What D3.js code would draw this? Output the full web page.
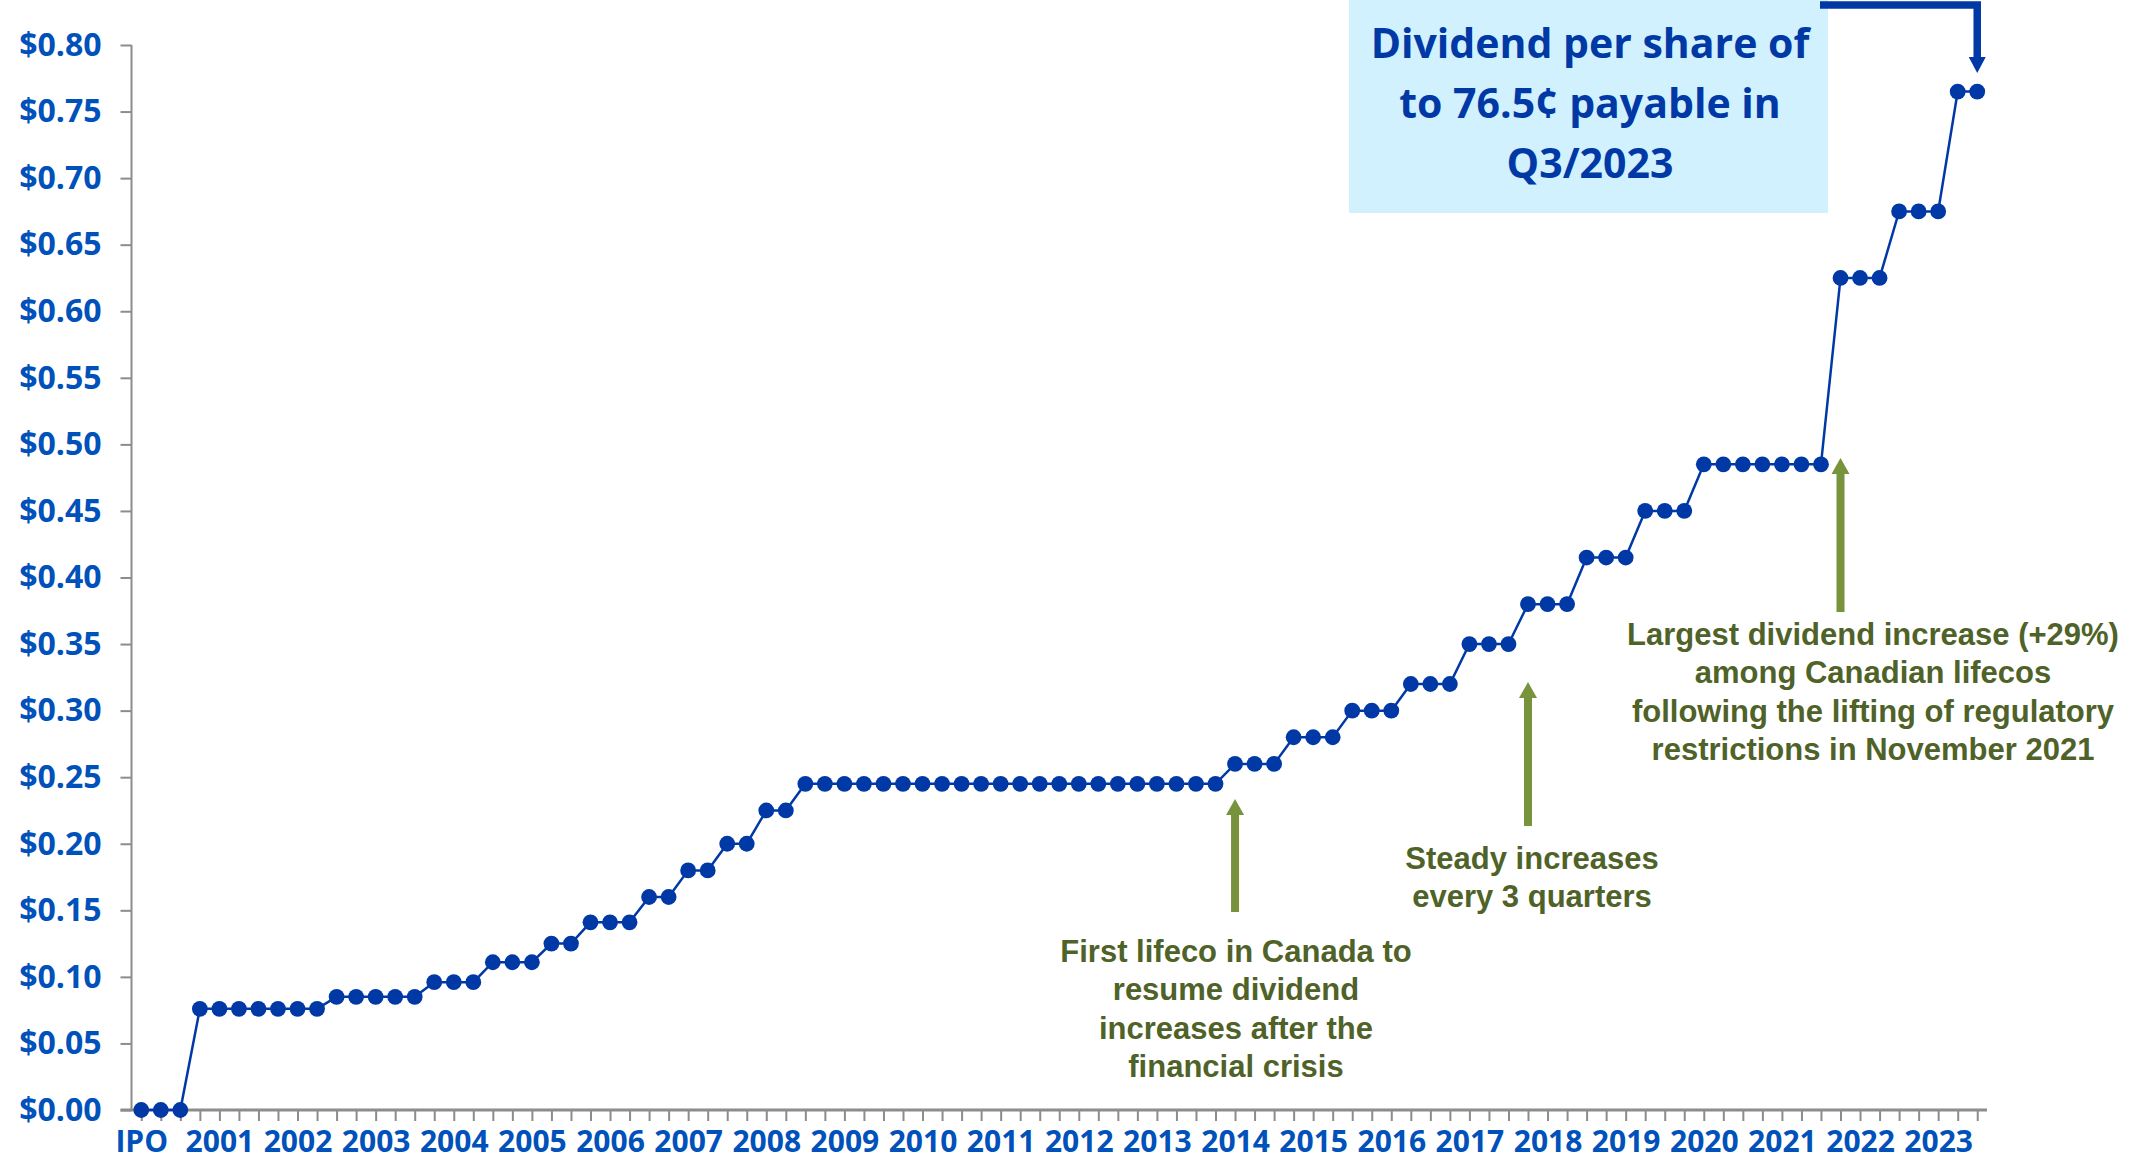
<!DOCTYPE html>
<html>
<head>
  <meta charset="utf-8">
  <title>Dividend history</title>
  <script src="https://d3js.org/d3.v7.min.js"></script>
  <style>
    body { margin: 0; background: #fff; }
    .tick-label { font-family: "Open Sans", sans-serif; font-weight: 700; fill: #0051ba; }
    .note { font-family: "Liberation Sans", Arial, sans-serif; font-weight: 700; fill: #4f6228; font-size: 31px; }
    .callout { font-family: "Open Sans", sans-serif; font-weight: 700; fill: #0039a6; font-size: 41px; }
  </style>
</head>
<body>
  <script>
    // Quarterly dividend per share, IPO through Q3/2023
    var dividends = [
      0, 0, 0,
      0.076, 0.076, 0.076, 0.076, 0.076, 0.076, 0.076,
      0.085, 0.085, 0.085, 0.085, 0.085,
      0.096, 0.096, 0.096,
      0.111, 0.111, 0.111,
      0.125, 0.125,
      0.141, 0.141, 0.141,
      0.16, 0.16,
      0.18, 0.18,
      0.20, 0.20,
      0.225, 0.225,
      0.245, 0.245, 0.245, 0.245, 0.245, 0.245, 0.245, 0.245, 0.245, 0.245, 0.245,
      0.245, 0.245, 0.245, 0.245, 0.245, 0.245, 0.245, 0.245, 0.245, 0.245, 0.245,
      0.26, 0.26, 0.26,
      0.28, 0.28, 0.28,
      0.30, 0.30, 0.30,
      0.32, 0.32, 0.32,
      0.35, 0.35, 0.35,
      0.38, 0.38, 0.38,
      0.415, 0.415, 0.415,
      0.45, 0.45, 0.45,
      0.485, 0.485, 0.485, 0.485, 0.485, 0.485, 0.485,
      0.625, 0.625, 0.625,
      0.675, 0.675, 0.675,
      0.765, 0.765
    ];

    // one label every 4 quarters
    var yearLabels = ["IPO", "2001", "2002", "2003", "2004", "2005", "2006", "2007",
      "2008", "2009", "2010", "2011", "2012", "2013", "2014", "2015", "2016",
      "2017", "2018", "2019", "2020", "2021", "2022", "2023"];

    var yTicks = [0, 0.05, 0.10, 0.15, 0.20, 0.25, 0.30, 0.35, 0.40,
      0.45, 0.50, 0.55, 0.60, 0.65, 0.70, 0.75, 0.80];

    var width = 2153, height = 1161;
    var plot = {left: 131.5, right: 1987, top: 45, bottom: 1110};

    var svg = d3.select("body").append("svg")
      .attr("width", width)
      .attr("height", height);

    var quarters = d3.range(dividends.length);

    var x = d3.scalePoint()
      .domain(quarters)
      .range([plot.left, plot.right])
      .padding(0.5);

    var y = d3.scaleLinear()
      .domain([0, 0.80])
      .range([plot.bottom, plot.top]);

    // y axis
    var yAxis = svg.append("g")
      .attr("transform", "translate(" + plot.left + ",0)")
      .call(d3.axisLeft(y).tickValues(yTicks).tickSize(11).tickPadding(19)
        .tickFormat(d3.format("$.2f")));
    yAxis.select(".domain").attr("stroke", "#8c8c8c").attr("stroke-width", 2)
      .attr("d", "M0," + plot.top + "V" + plot.bottom);
    yAxis.selectAll(".tick line").attr("stroke", "#8c8c8c").attr("stroke-width", 2);
    yAxis.selectAll(".tick text").attr("class", "tick-label").style("font-size", "32px");

    // x axis
    var xAxis = svg.append("g")
      .attr("transform", "translate(0," + plot.bottom + ")")
      .call(d3.axisBottom(x).tickSize(11).tickPadding(10)
        .tickFormat(function(d) { return d % 4 === 0 ? yearLabels[d / 4] : ""; }));
    xAxis.select(".domain").attr("stroke", "#8c8c8c").attr("stroke-width", 3)
      .attr("d", "M" + (plot.left - 11) + ",0H" + plot.right);
    xAxis.selectAll(".tick line").attr("stroke", "#8c8c8c").attr("stroke-width", 2);
    xAxis.selectAll(".tick text").attr("class", "tick-label").style("font-size", "30px");

    // series line and markers
    var line = d3.line()
      .x(function(d, i) { return x(i); })
      .y(function(d) { return y(d); });

    svg.append("path")
      .datum(dividends)
      .attr("fill", "none")
      .attr("stroke", "#0039a6")
      .attr("stroke-width", 2.5)
      .attr("d", line);

    svg.selectAll(".dot")
      .data(dividends)
      .enter().append("circle")
      .attr("class", "dot")
      .attr("cx", function(d, i) { return x(i); })
      .attr("cy", function(d) { return y(d); })
      .attr("r", 7.9)
      .attr("fill", "#0039a6");

    // green arrows with notes
    function upArrow(cx, tip, base) {
      svg.append("rect")
        .attr("x", cx - 4).attr("y", tip + 14)
        .attr("width", 8).attr("height", base - tip - 14)
        .attr("fill", "#77933c");
      svg.append("path")
        .attr("d", "M" + (cx - 9) + "," + (tip + 16) + "L" + cx + "," + tip + "L" + (cx + 9) + "," + (tip + 16) + "Z")
        .attr("fill", "#77933c");
    }

    function note(cx, y0, lines) {
      var t = svg.append("text").attr("class", "note").attr("text-anchor", "middle");
      lines.forEach(function(s, i) {
        t.append("tspan").attr("x", cx).attr("y", y0 + i * 38.3).text(s);
      });
    }

    upArrow(x(56), 799, 912);
    note(1236, 962, ["First lifeco in Canada to", "resume dividend", "increases after the", "financial crisis"]);

    upArrow(x(71), 682, 826);
    note(1532, 869, ["Steady increases", "every 3 quarters"]);

    upArrow(x(87), 458, 612);
    note(1873, 645, ["Largest dividend increase (+29%)", "among Canadian lifecos",
      "following the lifting of regulatory", "restrictions in November 2021"]);

    // callout box
    svg.append("rect")
      .attr("x", 1349).attr("y", 0)
      .attr("width", 479).attr("height", 213)
      .attr("fill", "#d0f1fd");

    var c = svg.append("text").attr("class", "callout").attr("text-anchor", "middle");
    ["Dividend per share of", "to 76.5¢ payable in", "Q3/2023"].forEach(function(s, i) {
      c.append("tspan").attr("x", 1590).attr("y", 58 + i * 60).text(s);
    });

    var lastX = x(dividends.length - 1);
    svg.append("path")
      .attr("d", "M1820,5H" + lastX + "V60")
      .attr("fill", "none")
      .attr("stroke", "#0039a6")
      .attr("stroke-width", 7.5);
    svg.append("path")
      .attr("d", "M" + (lastX - 8.5) + ",57L" + (lastX + 8.5) + ",57L" + lastX + ",73Z")
      .attr("fill", "#0039a6");
  </script>
</body>
</html>
